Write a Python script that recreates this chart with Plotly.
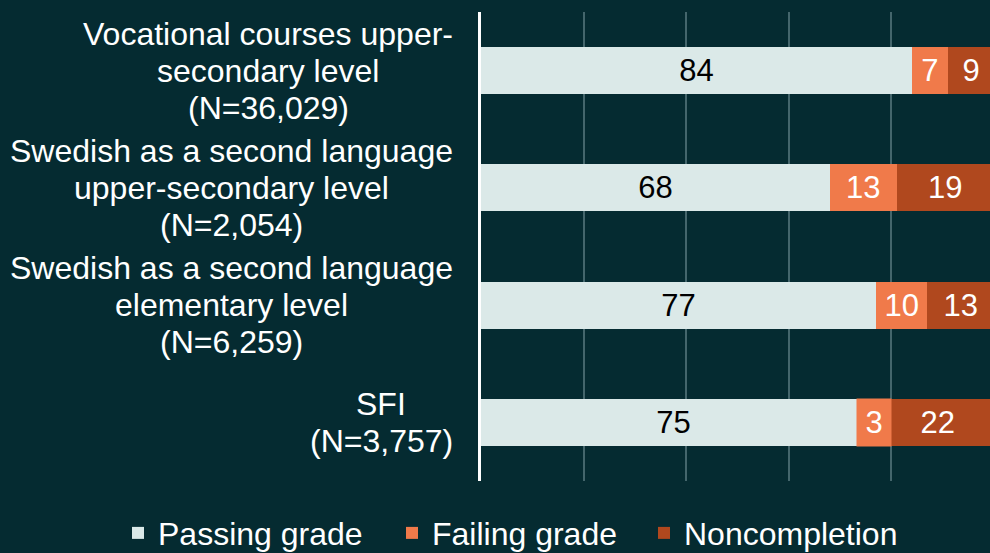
import plotly.graph_objects as go

categories = [
    "Vocational courses upper-<br>secondary level<br>(N=36,029)",
    "Swedish as a second language<br>upper-secondary level<br>(N=2,054)",
    "Swedish as a second language<br>elementary level<br>(N=6,259)",
    "SFI<br>(N=3,757)",
]
passing = [84, 68, 77, 75]
failing = [7, 13, 10, 3]
noncompletion = [9, 19, 13, 22]

series = [
    ("Passing grade", passing, "#dbe9e8", "#000000"),
    ("Failing grade", failing, "#f07a4a", "#ffffff"),
    ("Noncompletion", noncompletion, "#b0481e", "#ffffff"),
]

BG = "#052b31"
FONT = "Liberation Sans, Arial, sans-serif"
LABEL_SIZE = 32
BAR_TEXT_SIZE = 31
LINE_H = 37
MIN_INSIDE = 5

# layout geometry (pixels)
PLOT_L, PLOT_W = 481, 509
LABEL_GAP = 28
legend_left_px = [118, 392, 644]
legend_names = ["legend", "legend2", "legend3"]

fig = go.Figure()
cum = [0] * len(categories)
for k, (name, vals, color, tcolor) in enumerate(series):
    texts = [str(v) if v >= MIN_INSIDE else "" for v in vals]
    fig.add_trace(go.Bar(
        name=name, y=categories, x=vals, orientation="h",
        marker=dict(color=color, line=dict(width=0)),
        text=texts, textposition="inside", insidetextanchor="middle",
        textfont=dict(color=tcolor, size=BAR_TEXT_SIZE, family=FONT),
        width=0.4, legend=legend_names[k],
    ))
    # narrow segments: label drawn with a box in the segment colour
    for i, v in enumerate(vals):
        if v < MIN_INSIDE:
            fig.add_annotation(
                x=cum[i] + v / 2, y=categories[i], xref="x", yref="y",
                text=str(v), showarrow=False, bgcolor=color,
                font=dict(color=tcolor, size=BAR_TEXT_SIZE, family=FONT),
                borderpad=0, height=47, width=34,
            )
    cum = [c + v for c, v in zip(cum, vals)]

# category labels: one annotation per line, centred within each block
for bi, cat in enumerate(categories):
    lines = cat.split("<br>")
    n = len(lines)
    for k, line in enumerate(lines):
        fig.add_annotation(
            x=0, y=cat, xref="paper", yref="y", xanchor="center", yanchor="middle",
            showarrow=False, yshift=((n - 1) / 2 - k) * LINE_H,
            text=line, font=dict(size=LABEL_SIZE, color="#ffffff", family=FONT),
            name=f"lbl{bi}",
        )

legend_common = dict(
    orientation="h", yref="container", y=0.036, yanchor="middle",
    xref="paper", xanchor="left",
    font=dict(size=LABEL_SIZE, color="#ffffff", family=FONT),
    bgcolor="rgba(0,0,0,0)",
)
legends = {ln: dict(legend_common, x=(lx - PLOT_L) / PLOT_W)
           for ln, lx in zip(legend_names, legend_left_px)}

fig.update_layout(
    barmode="stack",
    width=990, height=553,
    paper_bgcolor=BG, plot_bgcolor=BG,
    margin=dict(l=PLOT_L, r=990 - PLOT_L - PLOT_W, t=12, b=72),
    font=dict(family=FONT, size=LABEL_SIZE, color="#ffffff"),
    uniformtext=dict(minsize=BAR_TEXT_SIZE, mode="show"),
    showlegend=True,
    **legends,
)
fig.update_xaxes(
    range=[0, 99.2], showgrid=True, gridcolor="#44666c", gridwidth=1.5,
    dtick=20, showticklabels=False, zeroline=False, showline=False,
    fixedrange=True,
)
fig.update_yaxes(
    autorange="reversed", showline=True, linecolor="#ffffff", linewidth=3,
    ticks="", showticklabels=False, showgrid=False,
)

# shift each label block so its widest line ends LABEL_GAP px left of the axis
post = """
document.body.style.margin='0';document.body.style.overflow='hidden';
var gd=document.querySelector('.plotly-graph-div');
var c=document.createElement('canvas').getContext('2d');
c.font='%dpx Liberation Sans, Arial, sans-serif';
var anns=gd.layout.annotations, upd={}, groups={};
anns.forEach(function(a,i){ if(a.name && a.name.indexOf('lbl')===0){ (groups[a.name]=groups[a.name]||[]).push(i);} });
Object.keys(groups).forEach(function(g){
  var idx=groups[g], w=0;
  idx.forEach(function(i){ w=Math.max(w,c.measureText(anns[i].text).width); });
  idx.forEach(function(i){ upd['annotations['+i+'].xshift']=-%d-w/2; });
});
Plotly.relayout(gd,upd);
""" % (LABEL_SIZE, LABEL_GAP)

fig.write_html("out.html", config={"displayModeBar": False}, post_script=post)
